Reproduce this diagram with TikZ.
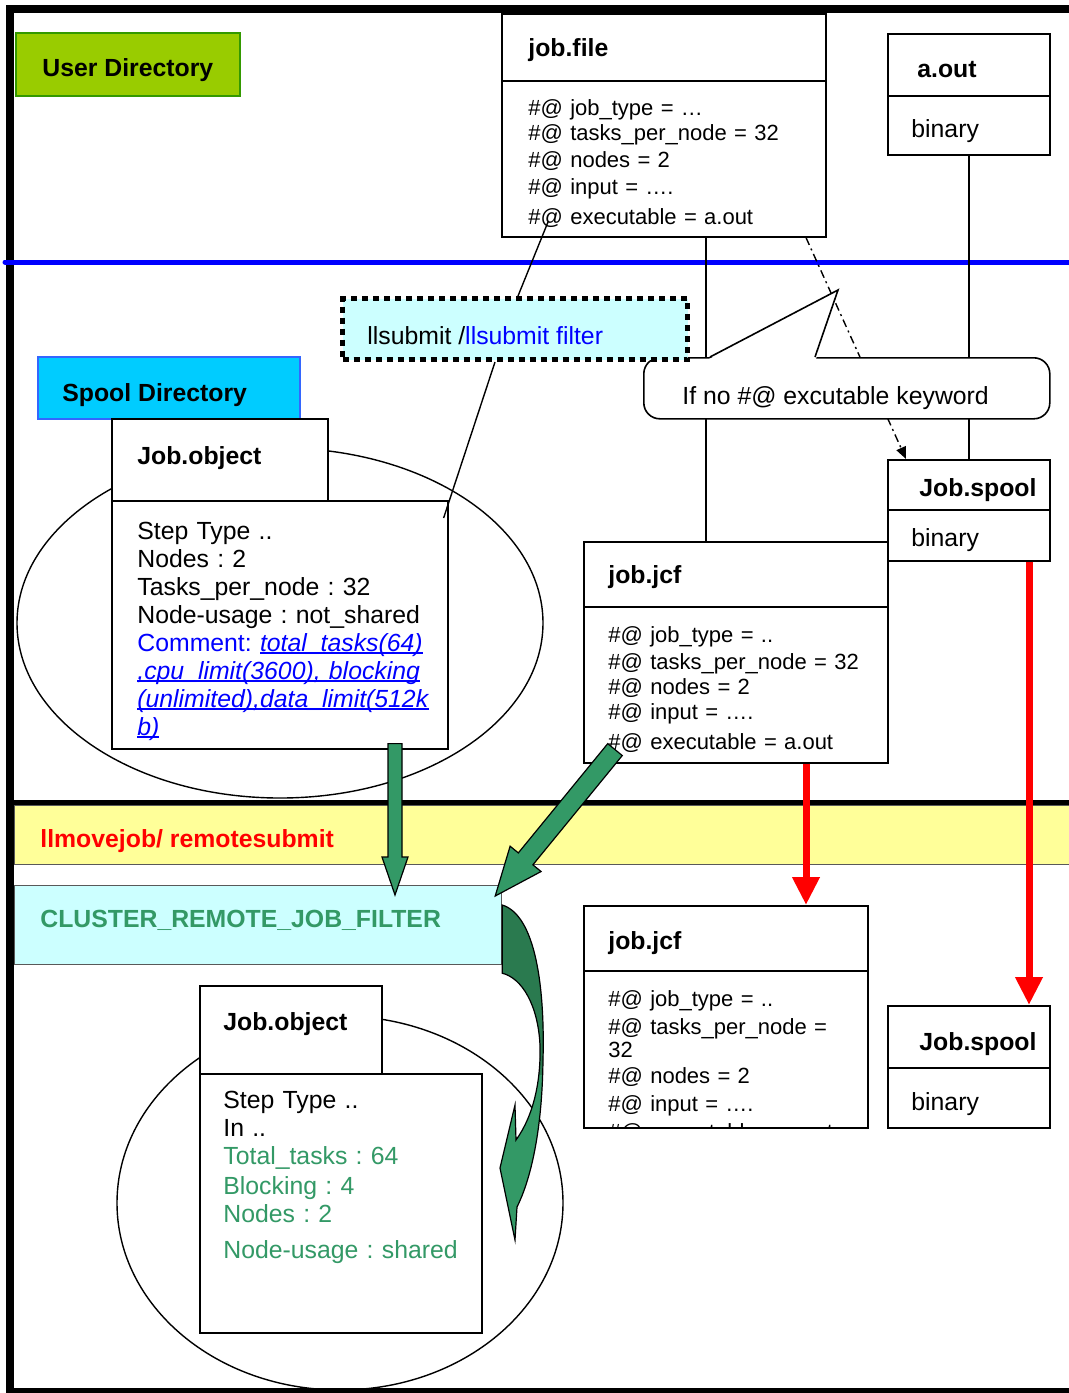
\documentclass[tikz,border=0pt]{standalone}
\usepackage{fontspec}
\setmainfont{Liberation Sans}
\frenchspacing
\usetikzlibrary{
    arrows.meta,
    calc,
}

\definecolor{usrgreen}{HTML}{99CC00}
\definecolor{usredge}{HTML}{339900}
\definecolor{splcyan}{HTML}{00CCFF}
\definecolor{splblue}{HTML}{3366FF}
\definecolor{paleblue}{HTML}{CCFFFF}
\definecolor{paleyel}{HTML}{FFFF99}
\definecolor{seagrn}{HTML}{339966}
\definecolor{darkgrn}{HTML}{2A7A4F}

\newcommand{\bigfnt}{\fontsize{12.4}{14}\selectfont}
\newcommand{\smlfnt}{\fontsize{11}{11.5}\selectfont}
% link-style underline, close to the baseline
\newcommand{\lnk}[1]{\setbox0\hbox{\textit{#1}}\rlap{\rule[-1.4pt]{\wd0}{0.7pt}}\box0}

% block arrow: start, tip, shaft half width, head half width, head length
\newcommand{\garrow}[5]{
  \coordinate (ga-s) at #1;
  \coordinate (ga-t) at #2;
  \coordinate (ga-h) at ($(ga-t)!#5!(ga-s)$);
  \filldraw[fill=seagrn, draw=black, line width=0.6pt]
    ($(ga-s)!#3!90:(ga-t)$) -- ($(ga-h)!#3!90:(ga-t)$) -- ($(ga-h)!#4!90:(ga-t)$)
    -- (ga-t) -- ($(ga-h)!#4!-90:(ga-t)$) -- ($(ga-h)!#3!-90:(ga-t)$)
    -- ($(ga-s)!#3!-90:(ga-t)$) -- cycle;
}

\begin{document}
\begin{tikzpicture}[
    x=0.5pt, y=-0.5pt,
    frm/.style={draw, fill=white, anchor=north west, inner sep=0pt, line width=0.8pt},
    sz/.style 2 args={minimum width=#1*0.5pt, minimum height=#2*0.5pt},
    ttl/.style={anchor=base west, inner sep=0pt, font=\bigfnt\bfseries},
    txt/.style={anchor=base west, inner sep=0pt, font=\bigfnt},
    lst/.style={anchor=base west, inner sep=0pt, align=left, text width=#1},
    wire/.style={line width=0.7pt},
    redarrow/.style={draw=red, line width=3.5pt, -{Triangle[length=14pt, width=13pt]}},
]

\useasboundingbox (0,0) rectangle (1069,1393);

% outer frame and borders
\draw[line width=4pt] (1075,9) -- (10,9) -- (10,1400);
\draw[line width=3pt] (10,1391) -- (1075,1391);
\draw[blue, line width=2.5pt, line cap=round] (5,262) -- (1075,262);

% llmovejob band and filter
\node[frm, sz={1060}{59}, fill=paleyel, draw=gray!70!black, line width=0.6pt] (mvb) at (14,805) {};
\draw[line width=2.5pt] (10,802) -- (1075,802);
\node[ttl, text=red] (mvb-t) at ($(mvb.north west)+(26,42)$) {llmovejob/ remotesubmit};
\node[frm, sz={487}{79}, fill=paleblue, draw=gray!70!black, line width=0.6pt] (crf) at (14,885) {};
\node[ttl, text=seagrn] (crf-t) at ($(crf.north west)+(26,42)$) {CLUSTER\_REMOTE\_JOB\_FILTER};

% directories
\node[frm, sz={224}{63}, fill=usrgreen, draw=usredge] (usr) at (15,32) {};
\node[ttl] (usr-t) at ($(usr.north west)+(27,44)$) {User Directory};
\node[frm, sz={262}{62}, fill=splcyan, draw=splblue] (spl) at (37,356) {};
\node[ttl] (spl-t) at ($(spl.north west)+(25,45)$) {Spool Directory};

% user side
\node[frm, sz={324}{67}] (jfH) at (501,13) {};
\node[ttl] (jfH-t) at ($(jfH.north west)+(27,43)$) {job.file};
\node[frm, sz={324}{156}] (jfB) at (501,80) {};
\node[lst=140pt, font=\smlfnt] (jfB-t) at ($(jfB.north west)+(27,35)$)
  {\#@ job\_type = …\\[1pt] \#@ tasks\_per\_node = 32\\[2pt] \#@ nodes = 2\\[2pt]
   \#@ input = ….\\[3.5pt] \#@ executable = a.out};

\node[frm, sz={162}{62}] (aoH) at (887,33) {};
\node[ttl] (aoH-t) at ($(aoH.north west)+(30,44)$) {a.out};
\node[frm, sz={162}{59}] (aoB) at (887,95) {};
\node[txt] (aoB-t) at ($(aoB.north west)+(24,42)$) {binary};

% spool side
\draw[line width=0.7pt] (280,623) ellipse [x radius=131.5pt, y radius=87.5pt];
\node[frm, sz={216}{82}] (ob1H) at (111,418) {};
\node[ttl] (ob1H-t) at ($(ob1H.north west)+(26,46)$) {Job.object};
\node[frm, sz={336}{248}] (ob1B) at (111,500) {};
\node[lst=152pt, font=\bigfnt] (ob1B-t) at ($(ob1B.north west)+(26,39)$)
  {Step Type ..\\ Nodes : 2\\ Tasks\_per\_node : 32\\ Node-usage : not\_shared\\
   \textcolor{blue}{Comment: \lnk{total\_tasks(64)}}\\
   \textcolor{blue}{\lnk{,cpu\_limit(3600), blocking}}\\
   \textcolor{blue}{\lnk{(unlimited),data\_limit(512k}}\\
   \textcolor{blue}{\lnk{b)}}};

\node[frm, sz={304}{65}] (jc1H) at (583,541) {};
\node[ttl] (jc1H-t) at ($(jc1H.north west)+(25,42)$) {job.jcf};
\node[frm, sz={304}{156}] (jc1B) at (583,606) {};
\node[lst=140pt, font=\smlfnt] (jc1B-t) at ($(jc1B.north west)+(25,36)$)
  {\#@ job\_type = ..\\[2pt] \#@ tasks\_per\_node = 32\\[1pt] \#@ nodes = 2\\[1pt]
   \#@ input = ….\\[3.5pt] \#@ executable = a.out};

\node[frm, sz={162}{50}] (js1H) at (887,459) {};
\node[ttl] (js1H-t) at ($(js1H.north west)+(32,37)$) {Job.spool};
\node[frm, sz={162}{51}] (js1B) at (887,509) {};
\node[txt] (js1B-t) at ($(js1B.north west)+(24,37)$) {binary};

% links from the user side
\draw[wire] ($(jfB.south west)+(205,0)$) -- ($(jc1H.north west)+(123,0)$);
\draw[wire] (aoB.south) -- (js1H.north);
\draw[wire, dash pattern=on 4pt off 2pt on 1pt off 2pt, -{Triangle[length=6pt, width=5pt]}]
  ($(jfB.south west)+(305,0)$) -- ($(js1H.north west)+(19,0)$);

% callout
\node[frm, sz={406}{61}, rounded corners=8pt] (nokey) at (643,357) {};
\fill[white] ($(nokey.north west)+(66,2)$) -- ($(nokey.north west)+(195,-67)$)
  -- ($(nokey.north west)+(173,2)$) -- cycle;
\draw[line width=0.8pt] ($(nokey.north west)+(67,0)$) -- ($(nokey.north west)+(195,-67)$)
  -- ($(nokey.north west)+(172,0)$);
\node[txt] (nokey-t) at ($(nokey.north west)+(39,47)$) {If no \#@ excutable keyword};

% llsubmit
\node[frm, sz={345}{61}, fill=paleblue, line width=2.5pt, dash pattern=on 3pt off 2.5pt] (lls) at (340,296) {};
\node[txt] (lls-t) at ($(lls.north west)+(27,48)$) {llsubmit /\textcolor{blue}{llsubmit filter}};
\draw[wire] ($(jfB.north west)+(47,142)$) -- ($(lls.north west)+(178,0)$);
\draw[wire] ($(lls.south west)+(155,0)$) -- ($(ob1B.north east)+(-5,18)$);

% remote side
\node[frm, sz={284}{65}] (jc2H) at (583,905) {};
\node[ttl] (jc2H-t) at ($(jc2H.north west)+(25,44)$) {job.jcf};
\node[frm, sz={284}{157}] (jc2B) at (583,970) {};
\begin{scope}
  \clip ($(jc2B.north west)+(2,2)$) rectangle ($(jc2B.south east)+(-2,-2)$);
  \node[lst=125pt, font=\smlfnt] (jc2B-t) at ($(jc2B.north west)+(25,36)$)
    {\#@ job\_type = ..\\[2.5pt] \#@ tasks\_per\_node =\\ 32\\[1.5pt] \#@ nodes = 2\\[2.5pt]
     \#@ input = ….\\[2.5pt] \#@ executable = a.out};
\end{scope}

\node[frm, sz={162}{62}] (js2H) at (887,1005) {};
\node[ttl] (js2H-t) at ($(js2H.north west)+(32,45)$) {Job.spool};
\node[frm, sz={162}{60}] (js2B) at (887,1067) {};
\node[txt] (js2B-t) at ($(js2B.north west)+(24,43)$) {binary};

\draw[line width=0.7pt] (340,1203) ellipse [x radius=111.5pt, y radius=93.5pt];
\node[frm, sz={182}{88}] (ob2H) at (199,985) {};
\node[ttl] (ob2H-t) at ($(ob2H.north west)+(24,45)$) {Job.object};
\node[frm, sz={282}{259}] (ob2B) at (199,1073) {};
\node[lst=125pt, font=\bigfnt] (ob2B-t) at ($(ob2B.north west)+(24,35)$)
  {Step Type ..\\ In ..\\ \textcolor{seagrn}{Total\_tasks : 64}\\[1pt]
   \textcolor{seagrn}{Blocking : 4}\\ \textcolor{seagrn}{Nodes : 2}\\[4pt]
   \textcolor{seagrn}{Node-usage : shared}};

% copies and transfers
\draw[redarrow] ($(jc1B.south west)+(223,0)$) -- ($(jc2H.north west)+(223,0)$);
\draw[redarrow] ($(js1B.south west)+(142,0)$) -- ($(js2H.north west)+(142,0)$);
\garrow{($(ob1B.south west)+(284,-6)$)}{($(crf.north west)+(381,10)$)}{3.5pt}{6.5pt}{19pt}
\garrow{($(jc1B.south west)+(32,-14)$)}{($(crf.north east)+(-7,11)$)}{4.7pt}{10pt}{24pt}

% filter output
\filldraw[fill=seagrn, draw=black, line width=0.6pt,
    path picture={\fill[darkgrn] (480,880) rectangle (560,1075);}]
  ($(crf.north east)+(0,20)$) .. controls (535,915) and (545,985) .. (543,1060)
  .. controls (542,1140) and (528,1185) .. (517,1207) -- (515,1240) -- (500,1168)
  -- (515,1105) -- (516,1140) .. controls (534,1115) and (541,1080) .. (540,1045)
  .. controls (538,1005) and (522,978) .. ($(crf.south east)+(0,8)$) -- cycle;

\end{tikzpicture}
\end{document}
